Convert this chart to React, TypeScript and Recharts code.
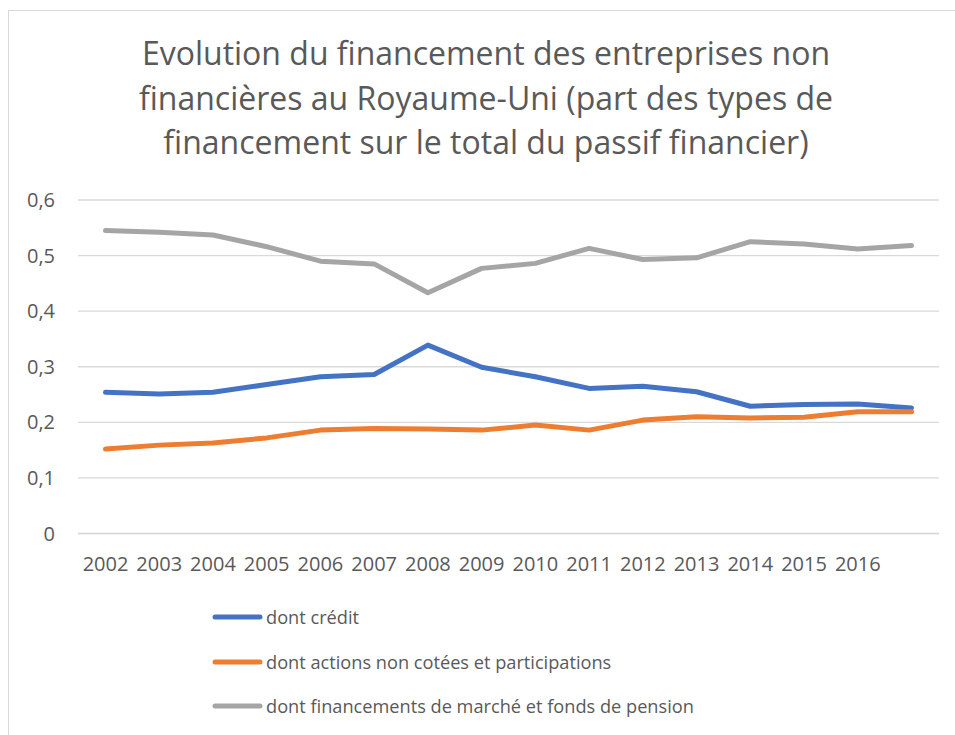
import React from "react";
import { LineChart, Line, XAxis, YAxis, CartesianGrid } from "recharts";

const years = ["2002","2003","2004","2005","2006","2007","2008","2009","2010","2011","2012","2013","2014","2015","2016",""];
const credit = [0.254,0.251,0.254,0.268,0.282,0.286,0.339,0.299,0.282,0.261,0.265,0.255,0.229,0.232,0.233,0.226];
const actions = [0.152,0.159,0.163,0.172,0.186,0.189,0.188,0.186,0.195,0.186,0.204,0.210,0.208,0.209,0.219,0.219];
const marche = [0.545,0.542,0.537,0.516,0.490,0.485,0.433,0.477,0.486,0.513,0.493,0.496,0.525,0.521,0.512,0.518];
const yTicks = [0,0.1,0.2,0.3,0.4,0.5,0.6];
const titleLines = [
  "Evolution du financement des entreprises non",
  "financières au Royaume-Uni (part des types de",
  "financement sur le total du passif financier)",
];
const seriesDefs = [
  { key: "credit", name: "dont crédit", color: "#4472C4" },
  { key: "actions", name: "dont actions non cotées et participations", color: "#ED7D31" },
  { key: "marche", name: "dont financements de marché et fonds de pension", color: "#A5A5A5" },
];

const data = years.map((y, i) => ({ year: y, credit: credit[i], actions: actions[i], marche: marche[i] }));

const FONT = "'Open Sans', sans-serif";
const TEXT = "#595959";

export default function App() {
  return (
    <div style={{ position: "absolute", left: 0, top: 0, width: 955, height: 735, overflow: "hidden", background: "#fff" }}>
      <div style={{ position: "absolute", left: 8, top: 10, width: 1100, height: 900, borderLeft: "1.5px solid #d9d9d9", borderTop: "1.5px solid #d9d9d9" }} />
      <div style={{ position: "absolute", left: 0, top: 31, width: 972, textAlign: "center", fontFamily: FONT, fontSize: 32, lineHeight: "44.5px", color: TEXT }}>
        {titleLines.map((t) => (
          <div key={t}>{t}</div>
        ))}
      </div>
      <div style={{ position: "absolute", left: 0, top: 0 }}>
        <LineChart width={955} height={735} data={data} margin={{ top: 200, right: 16, bottom: 171.5, left: 0 }}>
          <CartesianGrid vertical={false} stroke="#d9d9d9" strokeWidth={1.3} />
          <XAxis
            dataKey="year"
            interval={0}
            height={30}
            padding={{ left: 27.5, right: 27.5 }}
            tickLine={false}
            axisLine={{ stroke: "#d9d9d9", strokeWidth: 1.3 }}
            tickSize={0}
            tickMargin={23}
            tick={{ fill: TEXT, fontSize: 20, fontFamily: FONT }}
          />
          <YAxis
            width={78}
            domain={[0, 0.6]}
            ticks={yTicks}
            axisLine={false}
            tickLine={false}
            tickSize={0}
            tickMargin={23}
            tickFormatter={(v: number) => (v === 0 ? "0" : v.toFixed(1).replace(".", ","))}
            tick={{ fill: TEXT, fontSize: 20, fontFamily: FONT }}
          />
          {seriesDefs.map((s) => (
            <Line
              key={s.key}
              type="linear"
              dataKey={s.key}
              name={s.name}
              stroke={s.color}
              strokeWidth={5}
              strokeLinecap="round"
              strokeLinejoin="round"
              dot={false}
              activeDot={false}
              isAnimationActive={false}
            />
          ))}
        </LineChart>
      </div>
      <div style={{ position: "absolute", left: 212, top: 595, fontFamily: FONT, fontSize: 18.2, color: TEXT }}>
        {seriesDefs.map((s) => (
          <div key={s.key} style={{ display: "flex", alignItems: "center", height: 44.5 }}>
            <svg width={51} height={10} style={{ display: "block" }}>
              <line x1={3} y1={5} x2={48} y2={5} stroke={s.color} strokeWidth={5} strokeLinecap="round" />
            </svg>
            <span style={{ marginLeft: 3 }}>{s.name}</span>
          </div>
        ))}
      </div>
    </div>
  );
}
